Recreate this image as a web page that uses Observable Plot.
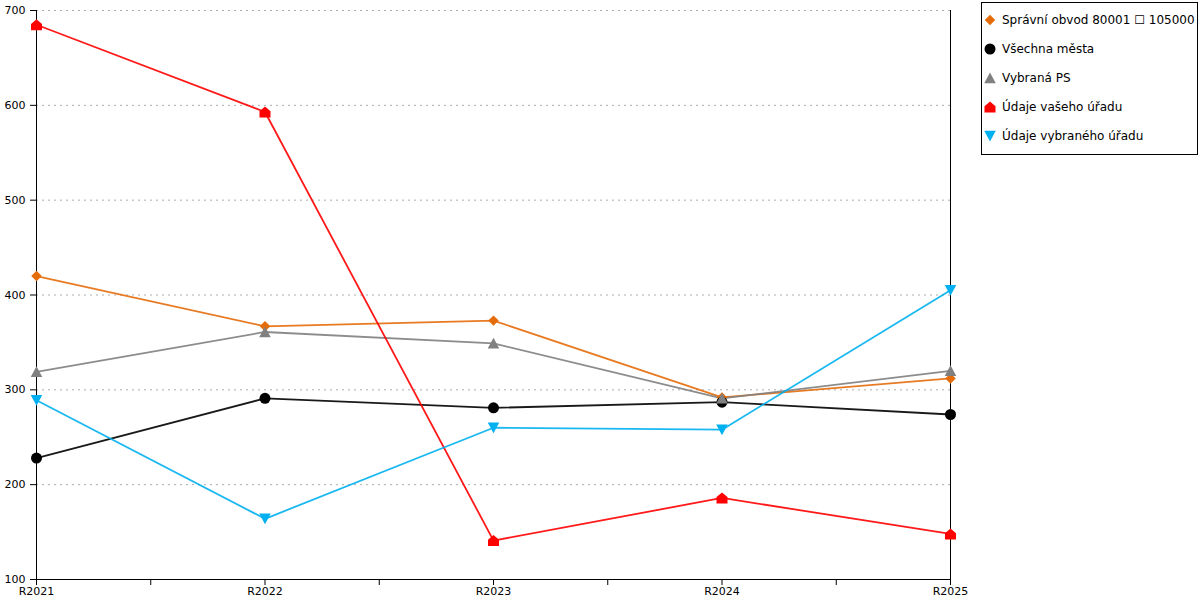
<!DOCTYPE html>
<html>
<head>
<meta charset="utf-8">
<script src="https://cdn.jsdelivr.net/npm/d3@7"></script>
<script src="https://cdn.jsdelivr.net/npm/@observablehq/plot@0.6"></script>
<style>
  html, body { margin: 0; padding: 0; background: #fff; }
  #wrap { position: relative; width: 1200px; height: 600px; font-family: "DejaVu Sans", sans-serif; }
  #legend { position: absolute; left: 981px; top: 2px; width: 217px; height: 153px; border: 1px solid #000; background: #fff; box-sizing: border-box; padding-top: 2.5px; }
  .row { display: flex; align-items: center; height: 29px; font-size: 12px; color: #000; white-space: nowrap; }
  .row svg { margin-left: 2px; margin-right: 6px; flex: none; }
</style>
</head>
<body>
<div id="wrap"><div id="chart"></div><div id="legend"></div></div>
<script>
// ---- data ----
const categories = ["R2021", "R2022", "R2023", "R2024", "R2025"];
const seriesNames = ["Správní obvod 80001 ☐ 105000", "Všechna města", "Vybraná PS", "Údaje vašeho úřadu", "Údaje vybraného úřadu"];
const seriesColors = ["#e46c0a", "#000000", "#808080", "#ff0000", "#00b0f0"];
const spravniObvod = [420, 367, 373, 292, 312];
const vsechnaMesta = [228, 291, 281, 287, 274];
const vybranaPS = [319, 361, 349, 291, 320];
const udajeVasehoUradu = [685, 593, 141, 186, 148];
const udajeVybranehoUradu = [289, 164, 260, 258, 405];
const yTicks = [100, 200, 300, 400, 500, 600, 700];

// ---- symbols ----
const rad = size => Math.sqrt(size / Math.PI);
const diamondSym = {draw(c, s) { const h = rad(s) * 0.95; c.moveTo(0, -h); c.lineTo(h, 0); c.lineTo(0, h); c.lineTo(-h, 0); c.closePath(); }};
const circleSym = {draw(c, s) { const h = rad(s); c.moveTo(h, 0); c.arc(0, 0, h, 0, 2 * Math.PI); c.closePath(); }};
const triUpSym = {draw(c, s) { const h = rad(s); c.moveTo(0, -h); c.lineTo(h * 1.05, h * 0.95); c.lineTo(-h * 1.05, h * 0.95); c.closePath(); }};
const triDownSym = {draw(c, s) { const h = rad(s); c.moveTo(0, h); c.lineTo(h * 1.05, -h * 0.95); c.lineTo(-h * 1.05, -h * 0.95); c.closePath(); }};
const houseSym = {draw(c, s) { const h = rad(s); c.moveTo(0, -h); c.lineTo(h, -h * 0.15); c.lineTo(h, h); c.lineTo(-h, h); c.lineTo(-h, -h * 0.15); c.closePath(); }};
const seriesSymbols = [diamondSym, circleSym, triUpSym, houseSym, triDownSym];

const seriesValues = [spravniObvod, vsechnaMesta, vybranaPS, udajeVasehoUradu, udajeVybranehoUradu];
const rows = seriesNames.flatMap((name, si) => categories.map((cat, ci) => ({series: name, si, ci, cat, value: seriesValues[si][ci]})));

const marks = [
  Plot.gridY(yTicks.filter(d => d > 100), {stroke: "#adadad", strokeOpacity: 1, strokeDasharray: "2,4"}),
  Plot.axisY({ticks: yTicks, tickSize: 6, tickPadding: 5, fontSize: 11, label: null}),
  Plot.axisX({ticks: d3.range(0, 4.01, 0.5), tickSize: 6, tickPadding: 2, fontSize: 11, label: null,
    tickFormat: d => Number.isInteger(d) ? categories[d] : ""}),
  Plot.ruleX([0, categories.length - 1], {stroke: "#000"}),
  Plot.ruleY([100], {stroke: "#000"})
];
seriesNames.forEach((name, si) => {
  const data = rows.filter(r => r.si === si);
  marks.push(Plot.line(data, {x: "ci", y: "value", stroke: seriesColors[si], strokeWidth: 1.8, strokeOpacity: 0.9}));
});
seriesNames.forEach((name, si) => {
  const data = rows.filter(r => r.si === si);
  marks.push(Plot.dot(data, {x: "ci", y: "value", fill: seriesColors[si], stroke: "none", r: 5.5, symbol: () => seriesSymbols[si]}));
});

const chart = Plot.plot({
  width: 1200,
  height: 600,
  marginLeft: 36,
  marginRight: 250,
  marginTop: 10,
  marginBottom: 21,
  style: {fontFamily: "DejaVu Sans, sans-serif", fontSize: "11px", color: "#000", background: "#fff"},
  x: {type: "linear", domain: [0, categories.length - 1]},
  y: {domain: [100, 700]},
  symbol: {type: "identity"},
  marks
});
document.getElementById("chart").appendChild(chart);

// ---- legend ----
const legend = d3.select("#legend");
seriesNames.forEach((name, si) => {
  const row = legend.append("div").attr("class", "row");
  const svg = row.append("svg").attr("width", 12).attr("height", 12).attr("viewBox", "-6 -6 12 12");
  svg.append("path").attr("d", d3.symbol(seriesSymbols[si], Math.PI * 5.5 * 5.5)()).attr("fill", seriesColors[si]);
  row.append("span").text(name);
});
</script>
</body>
</html>
